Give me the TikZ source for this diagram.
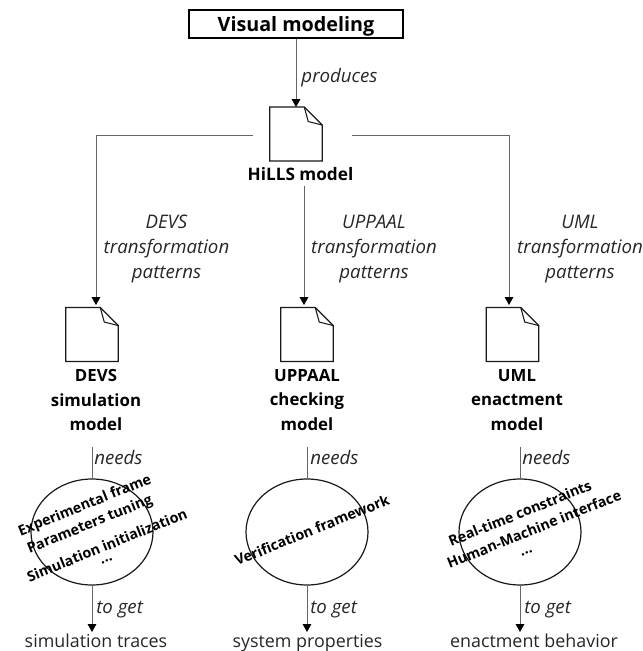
\documentclass[tikz,border=0pt]{standalone}
\usepackage{fontspec}
\setmainfont{Open Sans}
\usetikzlibrary{shapes.geometric,arrows.meta}
\newcommand{\docicon}[3]{%
  \node[docbox] (#1) at (#2,#3) {};
  \draw[docline] (#1.north west) -- ([xshift=-18*0.75pt]#1.north east) -- ([yshift=-18*0.75pt]#1.north east) -- (#1.south east) -- (#1.south west) -- cycle;
  \draw[docthin] ([xshift=-18*0.75pt]#1.north east) -- ([xshift=-14*0.75pt,yshift=-14.5*0.75pt]#1.north east) -- ([yshift=-18*0.75pt]#1.north east);
}
\tikzset{
  conn/.style={draw=black!60!white,line width=0.75pt},
  arr/.style={conn,-{Triangle[length=6pt,width=6.5pt,fill=black,color=black]}},
  docbox/.style={rectangle,minimum width=39pt,minimum height=40pt,inner sep=0pt},
  docline/.style={line width=1pt,draw=black!90},
  docthin/.style={line width=0.8pt,draw=black!90},
  lab/.style={font=\fontsize{14}{18.75}\selectfont\itshape,align=center,inner sep=0pt,text=black!85},
  res/.style={font=\fontsize{13.4}{15}\selectfont,inner sep=0pt,text=black!85,anchor=base},
  modl/.style={font=\fontsize{12.6}{18.4}\selectfont\bfseries,align=center,inner sep=0pt},
  cloud/.style={ellipse,draw=black!90,line width=0.9pt,minimum width=91.5pt,minimum height=79.5pt,inner sep=0pt},
  rot/.style={font=\fontsize{10.7}{13}\selectfont\bfseries,rotate=22,inner sep=0pt},
}
\begin{document}
\begin{tikzpicture}[x=0.75pt,y=-0.75pt]
\useasboundingbox (0,0) rectangle (643,651);
\node[draw=black,line width=1pt,minimum width=160.5pt,minimum height=21pt,inner sep=0pt,text height=10.5pt,text depth=0pt,font=\fontsize{14.8}{16}\selectfont\bfseries] (vm) at (296,24) {Visual modeling};
\docicon{hills}{296}{134}
\node[modl,font=\fontsize{12.9}{14}\selectfont\bfseries] (hillst) at (300.5,174) {HiLLS model};
\docicon{devs}{92}{334.5}
\docicon{upp}{307}{334.5}
\docicon{uml}{512.5}{334.5}
\node[modl] (devst) at (96,400) {DEVS\\simulation\\model};
\node[modl] (uppt) at (307,400) {UPPAAL\\checking\\model};
\node[modl] (umlt) at (517,400) {UML\\enactment\\model};
\node[cloud] (e1) at (92,532) {};
\node[cloud] (e2) at (307,532) {};
\node[cloud] (e3) at (520,532) {};
\node[res] (r1) at (96,647) {simulation traces};
\node[res] (r2) at (307.5,647) {system properties};
\node[res] (r3) at (534,647) {enactment behavior};
\coordinate (hl) at (253,135);
\coordinate (hr) at (352,135);
\coordinate (hm) at (304,186);
\coordinate (d1) at (96,305);
\coordinate (d2) at (304,305);
\coordinate (d3) at (509,305);
\coordinate (n1) at (92,447);
\coordinate (n2) at (307,447);
\coordinate (n3) at (520,447);
\coordinate (t1) at (92,632);
\coordinate (t2) at (307,632);
\coordinate (t3) at (520,632);
\draw[arr] (vm.south -| hills.north) -- (hills.north);
\draw[arr] (hl) -| (d1);
\draw[arr] (hr) -| (d3);
\draw[arr] (hm) -- (d2);
\foreach \e/\n/\t in {e1/n1/t1,e2/n2/t2,e3/n3/t3}{
  \draw[conn] (\n) -- (\e.north);
  \draw[arr] (\e.south) -- (\t);
}
\node[lab] (lp) at (339.5,78) {produces};
\node[lab] (l1) at (166.5,249) {DEVS\\transformation\\patterns};
\node[lab] (l2) at (374,249) {UPPAAL\\transformation\\patterns};
\node[lab] (l3) at (580,249) {UML\\transformation\\patterns};
\node[lab,anchor=west] (n1l) at (94,457) {needs};
\node[lab,anchor=west] (n2l) at (310,457) {needs};
\node[lab,anchor=west] (n3l) at (522,457) {needs};
\node[lab,anchor=west] (t1l) at (96,610) {to get};
\node[lab,anchor=west] (t2l) at (310,610) {to get};
\node[lab,anchor=west] (t3l) at (524,610) {to get};
\node[rot] (a1) at (85,506) {Experimental frame};
\node[rot] (a2) at (90,525) {Parameters tuning};
\node[rot] (a3) at (107,545) {Simulation initialization};
\node[rot] (a4) at (107,561) {...};
\node[rot] (b1) at (312,530) {Verification framework};
\node[rot] (c1) at (520,513) {Real-time constraints};
\node[rot] (c2) at (534,529) {Human-Machine interface};
\node[rot] (c3) at (527,553) {...};
\end{tikzpicture}
\end{document}
